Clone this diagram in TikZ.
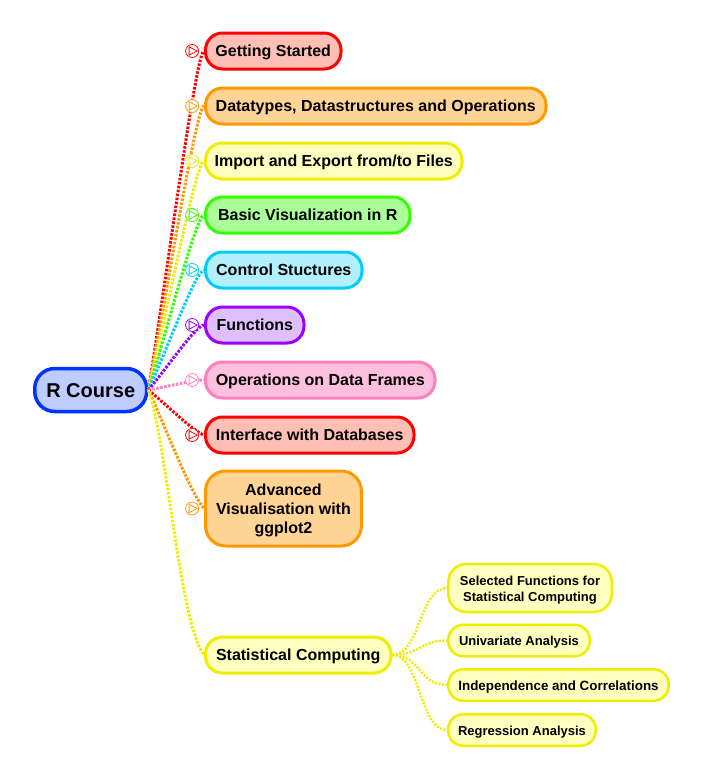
\documentclass[tikz,border=0pt]{standalone}
\usepackage{fontspec}
\setmainfont{Liberation Sans}
\usetikzlibrary{positioning,calc}
\definecolor{cBlue}{HTML}{0033FF}\definecolor{fBlue}{HTML}{BFCCFF}
\definecolor{cRed}{HTML}{FF0000}\definecolor{fRed}{HTML}{FFBFB5}
\definecolor{cOrange}{HTML}{FF9900}\definecolor{fOrange}{HTML}{FFD494}
\definecolor{cYellow}{HTML}{EEEE00}\definecolor{fYellow}{HTML}{FFFFBF}
\definecolor{cGreen}{HTML}{33FF00}\definecolor{fGreen}{HTML}{AAFF99}
\definecolor{cCyan}{HTML}{00CCFF}\definecolor{fCyan}{HTML}{B3F0FF}
\definecolor{cPurple}{HTML}{9900FF}\definecolor{fPurple}{HTML}{E0BFFF}
\definecolor{cPink}{HTML}{FF80BF}\definecolor{fPink}{HTML}{FFBFDF}
\begin{document}
\begin{tikzpicture}[x=1pt,y=-1pt,
    box/.style={draw=c#1,fill=f#1,line width=3pt,rounded corners=17pt,anchor=west,minimum height=36pt,inner xsep=10.5pt,inner ysep=2pt,text height=13.5pt,text depth=2pt,font=\fontsize{16}{19}\selectfont\bfseries,align=center},
    subbox/.style={draw=cYellow,fill=fYellow,line width=2.5pt,rounded corners=15pt,anchor=west,minimum height=31.5pt,inner xsep=2pt,inner ysep=2pt,text height=11pt,text depth=1pt,font=\fontsize{13}{16}\selectfont\bfseries,align=center},
    link/.style={line width=3pt,dash pattern=on 2.5pt off 1.5pt},
    sublink/.style={line width=2.5pt,dash pattern=on 2pt off 1.5pt,draw=cYellow},
    marker/.style={circle,draw=c#1,fill=white,line width=.8pt,minimum size=13pt,inner sep=0pt,path picture={
        \draw[c#1,line width=.8pt,line join=round] ([shift={(-3pt,-4.2pt)}]path picture bounding box.center) -- ++(8pt,4.2pt) -- ++(-8pt,4.2pt) -- cycle;}}]
    \useasboundingbox (0,0) rectangle (703,779);
    \node[box=Blue,line width=3.5pt,rounded corners=20pt,minimum height=43pt,text height=16pt,text depth=2pt,font=\fontsize{20}{24}\selectfont\bfseries,inner xsep=11.5pt] (root) at (33,390) {R Course};
    \foreach \i/\y/\c/\w/\t in {1/51/Red/135.5/Getting Started,2/106/Orange/340.5/{Datatypes, Datastructures and Operations},3/161/Yellow/256.5/{Import and Export from/to Files},4/215/Green/204.5/Basic Visualization in R,5/270/Cyan/156.5/Control Stuctures,6/325/Purple/98.5/Functions,7/380/Pink/229.5/Operations on Data Frames,8/435/Red/208.5/Interface with Databases} {
        \node[box=\c,inner xsep=9pt,minimum width=\w pt] (b\i) at (204,\y) {\t};
    }
    \node[box=Orange,rounded corners=20pt,minimum height=75pt,text height=49pt,text depth=0pt] (b9) at (204,508.5) {Advanced\\Visualisation with\\ggplot2};
    \node[box=Yellow] (stat) at (204,655) {Statistical Computing};
    \node[subbox,minimum width=163.5pt,minimum height=48pt,rounded corners=18pt,text height=26pt,text depth=0pt] (s1) at (447,588) {Selected Functions for\\Statistical Computing};
    \node[subbox,minimum width=141.5pt] (s2) at (447,640.5) {Univariate Analysis};
    \node[subbox,minimum width=220.5pt,font=\fontsize{13.4}{16}\selectfont\bfseries] (s3) at (447,685) {Independence and Correlations};
    \node[subbox,minimum width=147.5pt] (s4) at (447,730) {Regression Analysis};
    \foreach \i/\c/\h/\v in {1/Red/8/0,2/Orange/8/0,3/Yellow/8/0,4/Green/8/0,5/Cyan/8/0,6/Purple/8/0,7/Pink/10/0,8/Red/10/-3,9/Orange/16/-20} {
        \draw[link,draw=c\c] (root.east) .. controls ($(root.east)!.3!(b\i.west)$) and ($(b\i.west)+(-\h,\v)$) .. (b\i.west);
        \node[marker=\c,left=5pt of b\i.west] (m\i) {};
    }
    \draw[link,draw=cYellow] (root.east) .. controls +(18,50) and +(-24,-30) .. (stat.west);
    \foreach \i in {1,...,4} {
        \draw[sublink] (stat.east) .. controls +(28,0) and +(-28,0) .. (s\i.west);
    }
\end{tikzpicture}
\end{document}
